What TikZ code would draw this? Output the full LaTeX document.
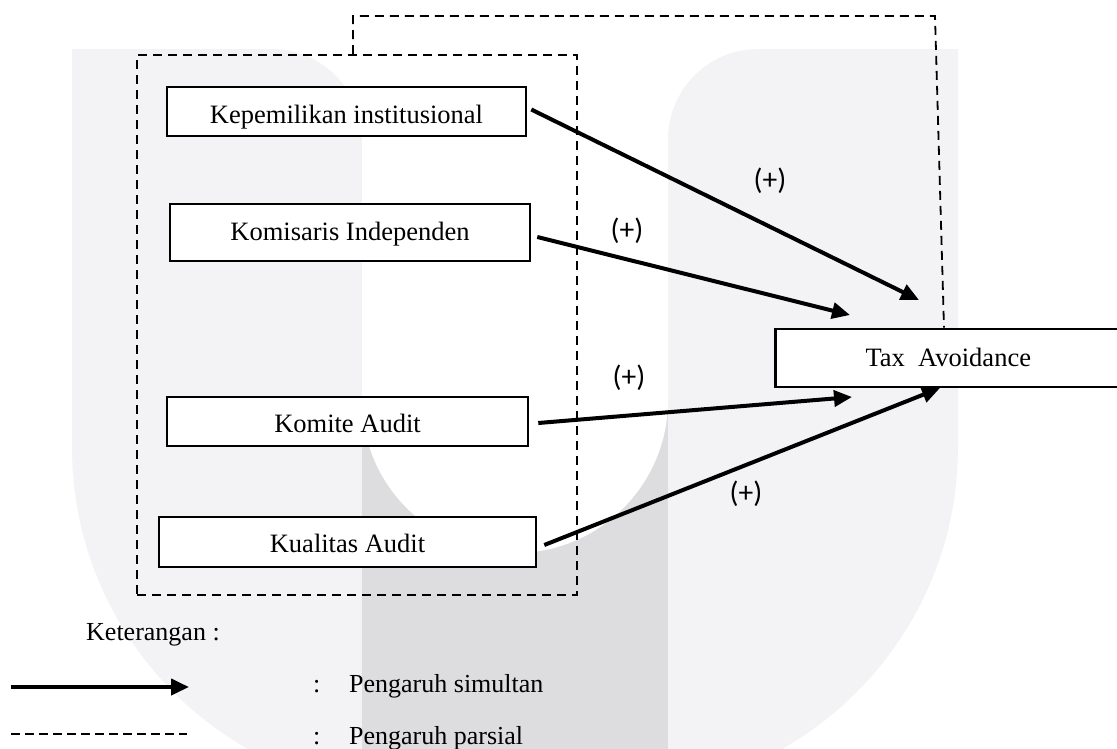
\documentclass[tikz,border=0pt]{standalone}
\usepackage{fontspec}
\setmainfont{Liberation Serif}
\newfontfamily\calib{Carlito}
\usetikzlibrary{arrows.meta}
\definecolor{wmlight}{HTML}{F3F3F5}
\definecolor{wmdark}{HTML}{DDDDE0}
\begin{document}
\begin{tikzpicture}[x=1pt,y=-1pt,
  box/.style={draw,line width=2.6pt,fill=white,inner sep=0pt,text depth=0pt,font=\fontsize{26.5}{30}\selectfont},
  dline/.style={line width=1.8pt,dash pattern=on 9pt off 6pt},
  arr/.style={line width=4pt,-{Triangle[length=18pt,width=16pt]}},
  plus/.style={font=\calib\fontsize{29.5}{32}\selectfont,inner sep=0pt},
  txt/.style={font=\fontsize{26}{30}\selectfont,inner sep=0pt}]
\useasboundingbox (0,0) rectangle (1117,748);
\fill[white] (0,0) rectangle (1117,748);
% watermark
\fill[wmlight] (72,49) -- (958,49) -- (958,447) arc[start angle=0,end angle=90,radius=347]
  -- (419,794) arc[start angle=90,end angle=180,radius=347] -- cycle;
\fill[wmdark] (362,300) rectangle (668,800);
\fill[white] (272,30) -- (272,49) arc[start angle=-90,end angle=0,radius=90]
  -- (362,400) arc[start angle=180,end angle=0,radius=153]
  -- (668,139) arc[start angle=180,end angle=270,radius=90] -- (758,30) -- cycle;
% group box
\node[dline,draw,minimum width=440pt,minimum height=540pt,inner sep=0pt] (grp) at (357,325) {};
% boxes
\node[box,minimum width=359pt,minimum height=49pt,text height=23pt] (b1) at (346.5,111.5) {Kepemilikan institusional};
\node[box,minimum width=360pt,minimum height=57pt,text height=15pt] (b2) at (350,232.5) {Komisaris Independen};
\node[box,minimum width=361pt,minimum height=49pt,text height=21pt] (b3) at (347.5,421.5) {Komite Audit};
\node[box,minimum width=377pt,minimum height=50pt,text height=20pt] (b4) at (347.5,542) {Kualitas Audit};
\node[box,minimum width=360pt,minimum height=58pt,text height=16pt,anchor=west] (tax) at (774,358) {\hspace*{-14pt}Tax\ \ Avoidance};
% partial-effect dashed connector
\coordinate (q0) at (353,0);
\coordinate (q1) at (944,0);
\coordinate (c1) at (353,16);
\coordinate (c2) at (935,16);
\draw[dline] (grp.north -| q0) -- (c1) -- (c2) -- (tax.north -| q1);
% arrows
\coordinate (t1) at (919,300);
\coordinate (t2) at (850,315);
\coordinate (t3) at (852,397);
\coordinate (t4) at (940,388);
\draw[arr] ([shift={(4,-2)}]b1.east) -- (t1);
\draw[arr] ([shift={(6,4.5)}]b2.east) -- (t2);
\draw[arr] ([shift={(9,1.5)}]b3.east) -- (t3);
\draw[arr] ([shift={(7,3)}]b4.east) -- (t4);
% labels
\node[plus] (l1) at (770,181) {(+)};
\node[plus] (l2) at (627,231) {(+)};
\node[plus] (l3) at (629,378) {(+)};
\node[plus] (l4) at (746,494) {(+)};
% legend
\node[txt,anchor=base west] (ket) at (86,640) {Keterangan :};
\coordinate (ls1) at (11,687);
\coordinate (ls2) at (189,687);
\draw[arr] (ls1) -- (ls2);
\coordinate (ld1) at (11,734);
\coordinate (ld2) at (187,734);
\draw[line width=1.8pt,dash pattern=on 9pt off 5pt] (ld1) -- (ld2);
\node[txt,anchor=base west] (k1) at (313,692) {:};
\node[txt,anchor=base west] (s1) at (349,692) {Pengaruh simultan};
\node[txt,anchor=base west] (k2) at (313,744) {:};
\node[txt,anchor=base west] (s2) at (349,744) {Pengaruh parsial};
\end{tikzpicture}
\end{document}
